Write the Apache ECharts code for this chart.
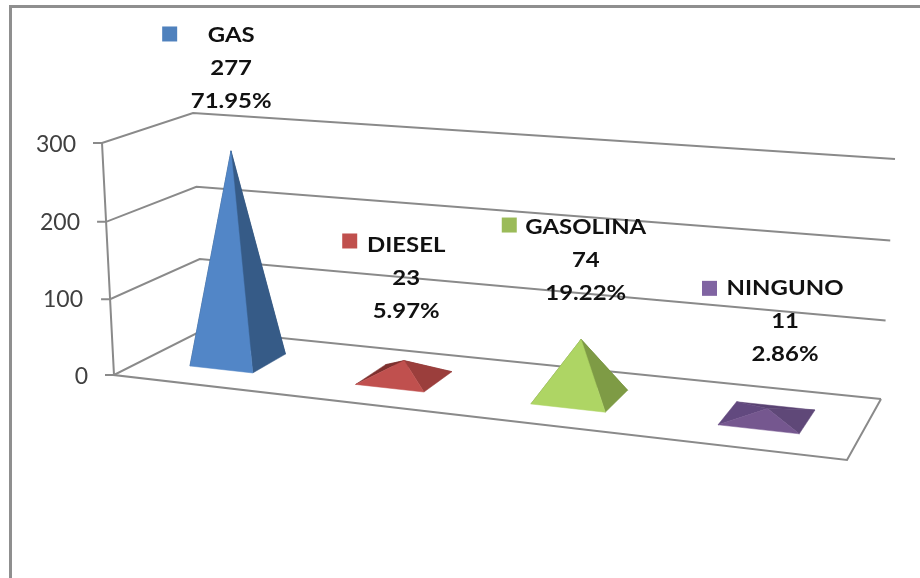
<!DOCTYPE html>
<html>
<head>
<meta charset="utf-8">
<title>Combustible</title>
<style>
  html, body { margin: 0; padding: 0; background: #fff; }
  #chart { width: 920px; height: 578px; }
</style>
<script src="https://cdn.jsdelivr.net/npm/echarts@6/dist/echarts.min.js"></script>
</head>
<body>
<div id="chart"></div>
<script>
// Chart data
const categories = ['GAS', 'DIESEL', 'GASOLINA', 'NINGUNO'];
const values = [277, 23, 74, 11];
const percentLabels = ['71.95%', '5.97%', '19.22%', '2.86%'];
const yTicks = [0, 100, 200, 300];

// Face colours per category: front, right, left, back
const faceColors = [
  ['#5286c7', '#365b87', '#2f5076', '#2f5076'],
  ['#c0504e', '#9b3e3c', '#7d302e', '#7d302e'],
  ['#aed564', '#7e9b45', '#6b843b', '#6b843b'],
  ['#75578f', '#5f4878', '#62497f', '#5a4373']
];
const keyColors = ['#4f81bd', '#c0504d', '#9bbb59', '#8064a2'];

// Small sideways nudge of each pyramid inside its category band
const bandNudge = [0.003, 0.01, 0.01, 0.005];

// Label placement relative to each pyramid's base centre:
// [dx, dy of name line, legend key left edge relative to dx, key dy relative to the name line]
const labelLayout = [
  [-7, -325, -69, -1],
  [2, -133, -64, -4],
  [6, -170, -84, -2],
  [18, -129, -83, 0]
];

// Corners of the floor and of the 300 plane: front-left, front-right, back-right, back-left
const floorQuad = [[114, 375], [847, 460], [881, 399], [203, 330]];
const topQuad = [[102, 143], [866, 200], [895, 159], [193, 113]];

// Homography of the unit square onto a quadrilateral
function quadMap(q) {
  const [[x0, y0], [x1, y1], [x2, y2], [x3, y3]] = q;
  const dx1 = x1 - x2, dx2 = x3 - x2, sx = x0 - x1 + x2 - x3;
  const dy1 = y1 - y2, dy2 = y3 - y2, sy = y0 - y1 + y2 - y3;
  const den = dx1 * dy2 - dx2 * dy1;
  const g = (sx * dy2 - dx2 * sy) / den;
  const h = (dx1 * sy - sx * dy1) / den;
  const a = x1 - x0 + g * x1, b = x3 - x0 + h * x3;
  const d = y1 - y0 + g * y1, e = y3 - y0 + h * y3;
  return (u, v) => {
    const w = 1 + g * u + h * v;
    return [(a * u + b * v + x0) / w, (d * u + e * v + y0) / w];
  };
}
const floorMap = quadMap(floorQuad);
const topMap = quadMap(topQuad);

// u: along the categories, v: depth, t: share of the value axis (slightly foreshortened upwards)
const HEIGHT_FORESHORTEN = 0.03;
function project(u, v, t) {
  const f = floorMap(u, v), p = topMap(u, v);
  const s = t / (1 + HEIGHT_FORESHORTEN * (1 - t));
  return [f[0] + (p[0] - f[0]) * s, f[1] + (p[1] - f[1]) * s];
}
function toUT(params, pt) {
  const r = params.coordSys;
  return [(pt[0] - r.x) / r.width, (r.y + r.height - pt[1]) / r.height];
}

const LINE = '#8a8a8a';
const HALF_U = 0.05, HALF_V = 0.2;

// Walls: one gridline per tick, running from the axis to the back corner and along the back wall
function renderGridline(params, api) {
  const [, t] = toUT(params, api.coord([0, api.value(1)]));
  const a = project(0, 0, t), b = project(0, 1, t), c = project(1, 1, t);
  return {
    type: 'polyline',
    shape: { points: [[a[0] - 9, a[1]], a, b, c] },
    style: { stroke: LINE, lineWidth: 2, fill: null }
  };
}

// Axis upright and the front and right edges of the floor
function renderFloor() {
  const top = project(0, 0, 1), p0 = project(0, 0, 0), p1 = project(1, 0, 0), p2 = project(1, 1, 0);
  return {
    type: 'polyline',
    shape: { points: [top, p0, p1, p2] },
    style: { stroke: LINE, lineWidth: 2, fill: null }
  };
}

function renderPyramid(params, api) {
  const i = api.value(0);
  const apexPx = api.coord([i, api.value(1)]);
  const [u, t] = toUT(params, apexPx);
  const uc = u + bandNudge[i];
  const fl = project(uc - HALF_U, 0.5 - HALF_V, 0);
  const fr = project(uc + HALF_U, 0.5 - HALF_V, 0);
  const br = project(uc + HALF_U, 0.5 + HALF_V, 0);
  const bl = project(uc - HALF_U, 0.5 + HALF_V, 0);
  const apex = project(uc, 0.5, t);
  const c = faceColors[i];
  const face = (pts, color) => ({
    type: 'polygon',
    shape: { points: pts },
    style: { fill: color, stroke: color, lineWidth: 0.5 }
  });
  return {
    type: 'group',
    children: [
      face([bl, br, apex], c[3]),
      face([fl, bl, apex], c[2]),
      face([fr, br, apex], c[1]),
      face([fl, fr, apex], c[0])
    ]
  };
}

const LABEL_FONT = { fontFamily: 'Lato', fontWeight: 'bold', fontSize: 21, fill: '#111' };
const LINE_GAP = 33;

function renderLabel(params, api) {
  const i = api.value(0);
  const [u] = toUT(params, api.coord([i, 0]));
  const base = project(u + bandNudge[i], 0.5, 0);
  const [dx, dy, keyDx, keyDy] = labelLayout[i];
  const cx = base[0] + dx, y0 = base[1] + dy;
  const line = (text, y) => ({
    type: 'text',
    x: cx,
    y: y,
    scaleX: 1.14,
    style: Object.assign({ text: text, align: 'center', verticalAlign: 'middle' }, LABEL_FONT)
  });
  return {
    type: 'group',
    children: [
      {
        type: 'rect',
        shape: { x: cx + keyDx, y: y0 + keyDy - 7.5, width: 15, height: 15 },
        style: { fill: keyColors[i] }
      },
      line(categories[i], y0),
      line(String(values[i]), y0 + LINE_GAP),
      line(percentLabels[i], y0 + LINE_GAP * 2)
    ]
  };
}

// Axis labels step inwards as the upright leans, so each tick gets its own right padding
const tickPadding = { 0: 0, 100: 5, 200: 8, 300: 12 };
const tickRich = {};
yTicks.forEach(v => {
  tickRich['t' + v] = {
    fontFamily: 'Lato', fontSize: 23, color: '#404040',
    padding: [0, tickPadding[v], 0, 0]
  };
});

const chart = echarts.init(document.getElementById('chart'), null, { renderer: 'canvas' });
chart.setOption({
  animation: false,
  backgroundColor: '#ffffff',
  grid: { left: 114, width: 733, top: 145, height: 232, containLabel: false },
  xAxis: { type: 'category', data: categories, show: false },
  yAxis: {
    type: 'value',
    min: 0,
    max: 300,
    interval: 100,
    axisLine: { show: false },
    axisTick: { show: false },
    splitLine: { show: false },
    axisLabel: {
      margin: 26,
      formatter: v => '{t' + v + '|' + v + '}',
      rich: tickRich
    }
  },
  graphic: [{
    type: 'polyline',
    silent: true,
    shape: { points: [[10.5, 578], [10.5, 6.5], [920, 6.5]] },
    style: { stroke: '#8f8f8f', lineWidth: 3, fill: null }
  }],
  series: [
    {
      type: 'custom',
      coordinateSystem: 'cartesian2d',
      renderItem: renderGridline,
      encode: { x: 0, y: 1 },
      data: yTicks.map(v => [0, v]),
      silent: true,
      z: 1
    },
    {
      type: 'custom',
      coordinateSystem: 'cartesian2d',
      renderItem: renderFloor,
      encode: { x: 0, y: 1 },
      data: [[0, 0]],
      silent: true,
      z: 1
    },
    {
      type: 'custom',
      coordinateSystem: 'cartesian2d',
      renderItem: renderPyramid,
      encode: { x: 0, y: 1 },
      data: values.map((v, i) => [i, v]),
      z: 2
    },
    {
      type: 'custom',
      coordinateSystem: 'cartesian2d',
      renderItem: renderLabel,
      encode: { x: 0, y: 1 },
      data: values.map((v, i) => [i, v]),
      silent: true,
      z: 3
    }
  ]
});
</script>
</body>
</html>
